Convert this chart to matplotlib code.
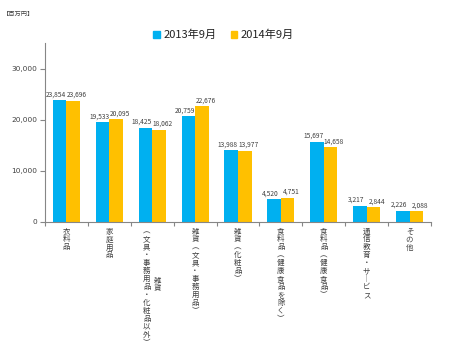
import matplotlib
matplotlib.use("Agg")
import matplotlib.pyplot as plt
from matplotlib.patches import Patch

plt.rcParams['font.family'] = ['Noto Sans CJK JP', 'DejaVu Sans']

categories = ["衣料品", "家庭用品", "雑貨(文具・事務用品・化粧品以外)", "雑貨(文具・事務用品)",
              "雑貨(化粧品)", "食料品(健康食品を除く)", "食料品(健康食品)", "通信教育・サービス", "その他"]
series_names = ["2013年9月", "2014年9月"]
values_2013 = [23854, 19533, 18425, 20759, 13988, 4520, 15697, 3217, 2226]
values_2014 = [23696, 20095, 18062, 22676, 13977, 4751, 14658, 2844, 2088]
yticks = [0, 10000, 20000, 30000]
unit_label = "【百万円】"

colors = ["#00B0F0", "#FFC000"]
text_color = "#404040"
axis_color = "#868686"

fig = plt.figure(figsize=(4.5, 3.59), dpi=100)
ax = fig.add_axes([45/450, 1-222/359, (431-45)/450, (222-43)/359])

n = len(categories)
x = list(range(n))
w = 0.317
ax.bar([i - w/2 for i in x], values_2013, w, color=colors[0])
ax.bar([i + w/2 for i in x], values_2014, w, color=colors[1])

for i in x:
    ax.annotate(f"{values_2013[i]:,}", (i - w/2, values_2013[i]), xytext=(-2.5, 1.2),
                textcoords="offset points", ha="center", va="bottom", fontsize=4.8, color=text_color)
    ax.annotate(f"{values_2014[i]:,}", (i + w/2, values_2014[i]), xytext=(2.5, 1.2),
                textcoords="offset points", ha="center", va="bottom", fontsize=4.8, color=text_color)

ax.set_xlim(-0.5, n - 0.5)
ax.set_ylim(0, 35000)
ax.set_yticks(yticks)
ax.set_yticklabels([f"{v:,}" for v in yticks], fontsize=5.3, color=text_color, family="DejaVu Sans")
ax.set_xticks([i - 0.5 for i in range(n + 1)])
ax.set_xticklabels([])
ax.tick_params(axis="x", length=3, width=0.8, color=axis_color)
ax.tick_params(axis="y", length=3.5, width=0.8, color=axis_color, pad=2)
for s in ["top", "right"]:
    ax.spines[s].set_visible(False)
for s in ["left", "bottom"]:
    ax.spines[s].set_color(axis_color)
    ax.spines[s].set_linewidth(0.8)

def vert(s):
    s = s.replace("(", "︵").replace(")", "︶").replace("ー", "︱")
    return "\n".join(s)

lab_fs = 5.4
ls = 0.99
for i, lab in enumerate(categories):
    if len(lab) > 14:
        head, rest = lab.split("(", 1)
        rest = "(" + rest
        ax.annotate(vert(rest), (i, 0), xycoords=("data", "axes fraction"), xytext=(-4, -4),
                    textcoords="offset points", ha="center", va="top", fontsize=lab_fs,
                    color=text_color, linespacing=ls)
        ax.annotate(vert(head), (i, 0), xycoords=("data", "axes fraction"), xytext=(4, -45),
                    textcoords="offset points", ha="center", va="center", fontsize=lab_fs,
                    color=text_color, linespacing=ls)
    else:
        ax.annotate(vert(lab), (i, 0), xycoords=("data", "axes fraction"), xytext=(0, -4),
                    textcoords="offset points", ha="center", va="top", fontsize=lab_fs,
                    color=text_color, linespacing=ls)

fig.text(3/450, 1-14/359, unit_label, fontsize=4.5, color=text_color, va="center", ha="left")

handles = [Patch(color=c) for c in colors]
fig.legend(handles, series_names, loc="center", bbox_to_anchor=(0.497, 1-35/359), ncol=2,
           frameon=False, fontsize=8, handlelength=0.6, handleheight=0.6, handletextpad=0.3,
           columnspacing=1.3, labelcolor="#222222")

fig.savefig("out.png", dpi=100)
